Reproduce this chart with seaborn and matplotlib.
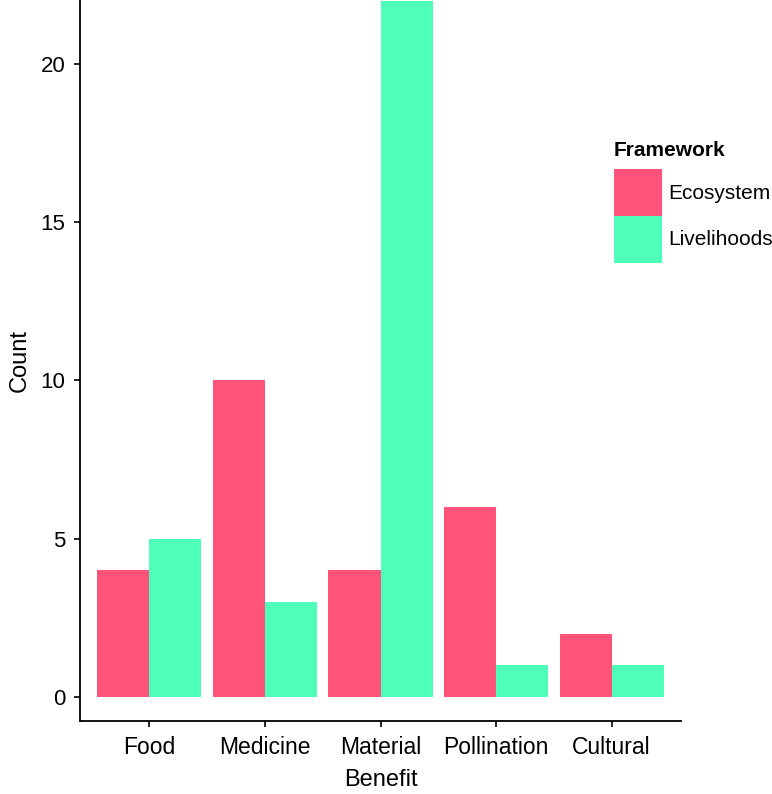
import matplotlib
matplotlib.use("Agg")
import matplotlib.pyplot as plt
from matplotlib.patches import Patch
import seaborn as sns
import pandas as pd

beneficios = ["Food", "Medicine", "Material", "Pollination", "Cultural"]
ecosystem = [4, 10, 4, 6, 2]
livelihoods = [5, 3, 22, 1, 1]
frameworks = ["Ecosystem", "Livelihoods"]
cores = ["#FF5379", "#4EFFB9"]

df = pd.DataFrame({
    "Benefit": beneficios * 2,
    "Count": ecosystem + livelihoods,
    "Framework": [frameworks[0]] * len(beneficios) + [frameworks[1]] * len(beneficios),
})

sns.set_style("ticks")
plt.rcParams["font.family"] = ["Liberation Sans", "DejaVu Sans"]
for chave in ["text.color", "axes.labelcolor", "xtick.color", "ytick.color", "axes.edgecolor"]:
    plt.rcParams[chave] = "black"

fig = plt.figure(figsize=(7.72, 7.94), dpi=100)
ax = fig.add_axes([80 / 772, 73 / 794, 601 / 772, 721 / 794])

sns.barplot(data=df, x="Benefit", y="Count", hue="Framework",
            palette=cores, width=0.9, gap=0, linewidth=0,
            saturation=1, legend=False, ax=ax)

ax.set_xlim(-0.6, 4.6)
ax.set_ylim(-0.76, 22.02)
ax.set_yticks([0, 5, 10, 15, 20])
ax.tick_params(axis="x", labelsize=16.5, length=4.5, width=1.2, pad=6.5)
ax.tick_params(axis="y", labelsize=16, length=4.5, width=1.2, pad=6)
ax.set_xlabel("Benefit", fontsize=17, labelpad=7)
ax.set_ylabel("Count", fontsize=17, labelpad=7)
for lado in ["top", "right"]:
    ax.spines[lado].set_visible(False)
for lado in ["left", "bottom"]:
    ax.spines[lado].set_linewidth(1.3)

# legenda estilo ggplot, fora da área dos dados (título separado)
fig.text(614 / 772, 1 - 150 / 794, "Framework", fontsize=15,
         fontweight="bold", ha="left", va="center")
handles = [Patch(facecolor=c, edgecolor="none") for c in cores]
fig.legend(handles, frameworks, loc="upper left",
           bbox_to_anchor=(614 / 772, 1 - 169 / 794), frameon=False,
           fontsize=15, handlelength=2.3, handleheight=3.09, labelspacing=0.0,
           handletextpad=0.3, borderaxespad=0, borderpad=0)

fig.savefig("out.png", dpi=100)
